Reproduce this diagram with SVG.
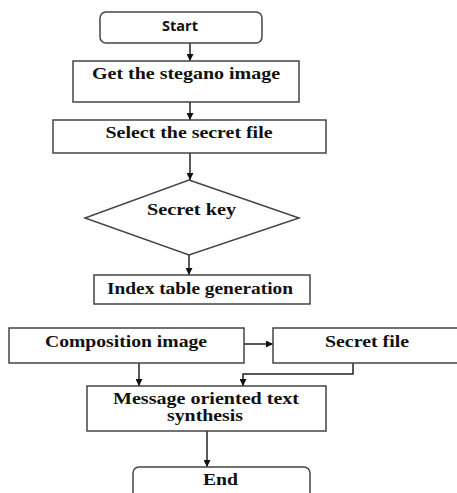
<svg xmlns="http://www.w3.org/2000/svg" width="457" height="493" viewBox="0 0 457 493">
<defs>
<marker id="ah" viewBox="0 0 10 10" refX="10" refY="5" markerWidth="7" markerHeight="7" markerUnits="userSpaceOnUse" orient="auto">
<path d="M0,0 L10,5 L0,10 z" fill="#111"/>
</marker>
<style>
.box{fill:#fff;stroke:#444;stroke-width:1.5}
.t{font-family:"Liberation Serif","Times New Roman",serif;font-weight:bold;font-size:16px;fill:#111;text-anchor:middle}
.s{font-family:"Open Sans","Liberation Sans",sans-serif;font-weight:bold;font-size:14px;fill:#111;text-anchor:middle}
.c{fill:none;stroke:#222;stroke-width:1.5}
</style>
</defs>
<rect width="457" height="493" fill="#fff"/>
<g id="connectors">
<line class="c" x1="190" y1="43" x2="190" y2="61" marker-end="url(#ah)"/>
<line class="c" x1="190" y1="102" x2="190" y2="120" marker-end="url(#ah)"/>
<line class="c" x1="190" y1="153" x2="190" y2="180" marker-end="url(#ah)"/>
<line class="c" x1="189" y1="255" x2="189" y2="275" marker-end="url(#ah)"/>
<line class="c" x1="244" y1="344" x2="273" y2="344" marker-end="url(#ah)"/>
<line class="c" x1="139" y1="363" x2="139" y2="386" marker-end="url(#ah)"/>
<polyline class="c" points="353,363 353,374 243,374 243,386" marker-end="url(#ah)"/>
<line class="c" x1="207" y1="431" x2="207" y2="467" marker-end="url(#ah)"/>
</g>
<g id="start">
<rect class="box" x="100" y="12" width="162" height="31" rx="6"/>
<text class="s" x="180" y="31" textLength="36" lengthAdjust="spacingAndGlyphs">Start</text>
</g>
<g id="get">
<rect class="box" x="73" y="61" width="226" height="41"/>
<text class="t" x="186" y="79" textLength="188" lengthAdjust="spacingAndGlyphs">Get the stegano image</text>
</g>
<g id="select">
<rect class="box" x="53" y="120" width="273" height="33"/>
<text class="t" x="189" y="138" textLength="167" lengthAdjust="spacingAndGlyphs">Select the secret file</text>
</g>
<g id="key">
<polygon class="box" points="189,180 299,218 189,255 85,218"/>
<text class="t" x="191.5" y="215" textLength="89" lengthAdjust="spacingAndGlyphs">Secret key</text>
</g>
<g id="index">
<rect class="box" x="94" y="275" width="216" height="29"/>
<text class="t" x="200" y="294" textLength="186" lengthAdjust="spacingAndGlyphs">Index table generation</text>
</g>
<g id="composition">
<rect class="box" x="9" y="328" width="235" height="35"/>
<text class="t" x="126" y="347" textLength="162" lengthAdjust="spacingAndGlyphs">Composition image</text>
</g>
<g id="secretfile">
<rect class="box" x="273" y="328" width="190" height="35"/>
<text class="t" x="367" y="347" textLength="84" lengthAdjust="spacingAndGlyphs">Secret file</text>
</g>
<g id="message">
<rect class="box" x="87" y="386" width="239" height="45"/>
<text class="t" x="206" y="404" textLength="186" lengthAdjust="spacingAndGlyphs">Message oriented text</text>
<text class="t" x="205" y="421" textLength="76" lengthAdjust="spacingAndGlyphs">synthesis</text>
</g>
<g id="end">
<rect class="box" x="133" y="467" width="177" height="40" rx="6"/>
<text class="t" x="220.5" y="485" textLength="35" lengthAdjust="spacingAndGlyphs">End</text>
</g>
</svg>
